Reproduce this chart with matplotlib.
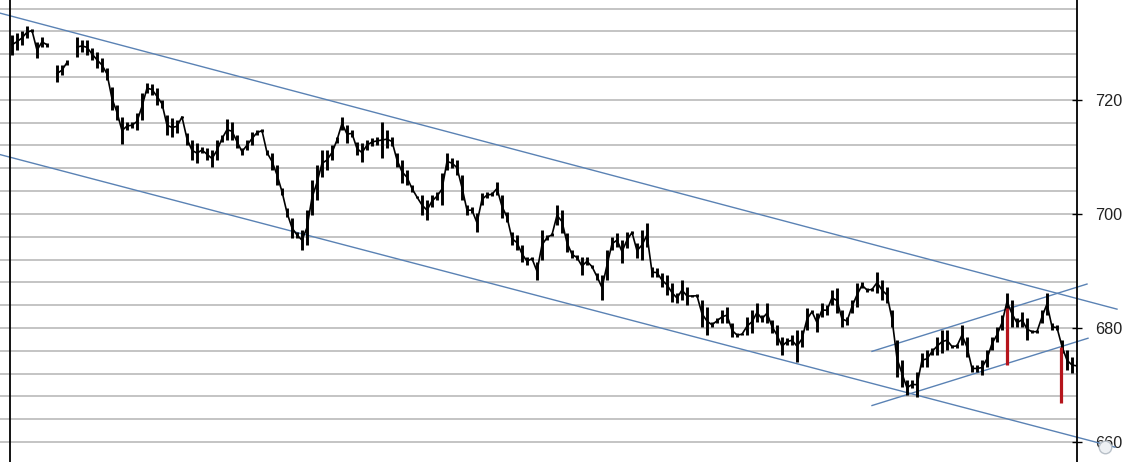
import numpy as np
import matplotlib
matplotlib.use('Agg')
import matplotlib.pyplot as plt

# bar highs / lows, one bar per slot (None = no trade)
HIGHS = [731.4, 731.7, 732.1, 732.9, 732.4, 730.1, 731.0, 730.0, None, 726.1,
         726.1, 727.0, None, 731.0, 730.5, 730.5, 729.1, 728.4, 727.3, 725.6,
         722.2, 719.1, 717.0, 716.1, 716.1, 717.7, 721.2, 722.9, 722.8, 722.1,
         720.0, 717.3, 716.8, 716.5, 717.2, 714.2, 712.9, 712.4, 711.7, 711.5,
         711.2, 712.9, 713.8, 716.6, 716.1, 713.8, 711.5, 712.9, 714.3, 714.7,
         714.9, 711.2, 710.7, 708.6, 704.5, 701.0, 699.3, 696.8, 697.2, 700.7,
         705.9, 708.6, 711.2, 711.2, 712.1, 713.5, 717.0, 715.6, 714.7, 712.6,
         712.4, 712.9, 713.3, 713.5, 716.1, 714.7, 713.5, 710.7, 709.4, 707.7,
         705.1, 703.1, 703.3, 702.4, 703.3, 703.8, 707.2, 710.7, 709.8, 709.4,
         706.8, 701.5, 701.2, 700.1, 703.6, 703.8, 703.8, 705.6, 703.3, 700.3,
         696.8, 696.3, 694.5, 692.4, 692.4, 691.5, 697.2, 696.3, 696.6, 701.5,
         700.7, 696.6, 693.6, 692.8, 692.4, 692.4, 691.0, 689.6, 689.3, 693.6,
         695.9, 696.6, 695.4, 696.8, 697.0, 694.9, 697.2, 698.4, 690.7, 690.5,
         689.6, 689.3, 687.9, 686.1, 688.4, 687.2, 685.8, 685.9, 684.9, 683.7,
         681.0, 681.7, 683.1, 683.7, 680.8, 679.1, 679.1, 681.9, 683.1, 684.4,
         682.2, 684.4, 681.4, 680.5, 678.4, 678.2, 678.7, 679.6, 679.6, 683.5,
         683.1, 682.6, 684.4, 684.0, 686.6, 687.0, 683.1, 681.9, 684.9, 687.9,
         688.0, 687.0, 687.0, 689.8, 688.4, 687.2, 683.1, 677.9, 674.4, 670.8,
         670.8, 672.2, 675.6, 676.1, 676.5, 678.4, 679.6, 679.6, 677.0, 677.2,
         680.5, 678.4, 673.5, 673.5, 674.4, 676.1, 678.4, 680.1, 682.2, 686.1,
         684.9, 681.7, 682.8, 681.7, 679.6, 679.6, 683.1, 686.1, 680.8, 680.5,
         677.9, 676.1, 674.9, 674.4]
LOWS = [727.9, 728.7, 729.6, 730.8, 731.9, 727.3, 729.3, 729.3, None, 723.1,
        724.3, 726.1, None, 727.5, 728.4, 727.9, 727.0, 725.6, 724.9, 723.5,
        718.2, 716.5, 712.2, 714.7, 715.0, 714.7, 716.5, 721.2, 720.8, 719.1,
        718.6, 713.8, 713.5, 714.2, 716.8, 712.1, 709.4, 708.9, 710.7, 709.4,
        708.2, 709.4, 712.6, 712.9, 712.9, 711.5, 710.3, 711.2, 712.1, 713.8,
        714.3, 710.3, 707.7, 705.1, 703.3, 699.4, 695.8, 695.8, 693.6, 694.5,
        699.8, 702.4, 706.5, 707.7, 709.4, 712.4, 714.7, 712.4, 713.5, 710.3,
        709.1, 711.2, 711.9, 712.1, 709.8, 711.5, 711.9, 708.2, 705.4, 705.1,
        703.8, 702.8, 699.8, 698.9, 701.2, 702.4, 701.5, 707.7, 708.0, 706.8,
        702.4, 699.8, 700.1, 696.8, 701.5, 702.8, 703.1, 703.3, 699.3, 698.6,
        694.5, 693.6, 691.5, 691.0, 691.9, 688.4, 691.9, 695.4, 696.1, 698.0,
        696.6, 693.3, 692.2, 691.9, 689.3, 691.0, 690.5, 688.4, 684.9, 688.4,
        693.6, 694.2, 691.4, 694.0, 696.5, 692.2, 691.9, 694.2, 688.9, 688.9,
        687.2, 685.8, 684.5, 684.4, 684.9, 684.0, 685.4, 685.4, 680.1, 678.7,
        680.1, 680.8, 680.8, 680.8, 678.4, 678.4, 678.7, 678.7, 679.1, 681.0,
        681.0, 680.8, 679.1, 677.0, 675.2, 677.0, 677.0, 674.0, 676.6, 679.6,
        682.6, 679.3, 681.9, 682.2, 684.0, 682.6, 680.1, 680.5, 682.6, 683.7,
        687.0, 686.3, 686.5, 686.1, 684.9, 684.4, 680.1, 671.4, 669.6, 668.2,
        669.4, 667.9, 673.1, 673.1, 675.2, 675.2, 675.6, 676.1, 676.5, 676.5,
        677.0, 674.9, 672.3, 672.3, 671.7, 673.1, 676.1, 677.5, 679.6, 683.1,
        680.1, 680.1, 680.1, 677.9, 679.1, 679.1, 680.8, 682.3, 679.6, 679.6,
        675.6, 672.6, 672.1, 672.3]

# red signal bars: bar index, top, bottom
RED_X = [199, 209.8]
RED_TOP = [683.5, 676.6]
RED_BOT = [673.5, 666.8]

# trend lines: (x0, y0, x1, y1) in bar index / price
TRENDS = [(-2.4, 735.2, 221.0, 683.3),
          (-2.4, 710.4, 220.6, 659.1),
          (172.0, 675.9, 215.0, 687.7),
          (172.0, 666.4, 215.2, 678.2)]

Y_TICKS = [660, 680, 700, 720]

highs = np.array([np.nan if v is None else v for v in HIGHS])
lows = np.array([np.nan if v is None else v for v in LOWS])
x = np.arange(len(highs))

fig = plt.figure(figsize=(11.23, 4.62), dpi=100)
ax = fig.add_axes([0, 0, 1077 / 1123, 1])
ax.set_xlim(-2.4, 213.0)
ax.set_ylim(656.5, 737.5)

# grid every 4 points
ax.set_yticks(np.arange(660, 737, 4), minor=True)
ax.grid(which='minor', axis='y', color='#b4b4b4', linewidth=1.1)
ax.grid(which='major', axis='y', color='#b4b4b4', linewidth=1.1)
ax.set_axisbelow(True)

for x0, y0, x1, y1 in TRENDS:
    ax.plot([x0, x1], [y0, y1], color='#5a82b4', linewidth=1.0,
            clip_on=False, zorder=2)

mid = (highs + lows) / 2
ax.plot(x, mid, color='black', linewidth=1.2, zorder=3)
ax.vlines(x, lows, highs, color='black', linewidth=2.1, zorder=3)

ax.vlines(RED_X, RED_BOT, RED_TOP, color='#b5141b', linewidth=2.3, zorder=4)

ax.axvline(-0.3, color='black', linewidth=1.3, zorder=5)

ax.plot([218.6], [659.1], 'o', ms=9, mfc='#eef1f4', mec='#b8c0c8',
        mew=1.0, clip_on=False, zorder=6)

for s in ('left', 'top', 'bottom'):
    ax.spines[s].set_visible(False)
ax.spines['right'].set_linewidth(1.3)
ax.set_xticks([])
ax.yaxis.tick_right()
ax.set_yticks(Y_TICKS)
ax.tick_params(axis='y', which='major', direction='inout', length=7.2,
               width=1.0, pad=9.2, labelsize=11.7, labelcolor='#222222')
ax.tick_params(axis='y', which='minor', length=0)
for lab in ax.get_yticklabels():
    lab.set_fontfamily('Liberation Sans')

fig.savefig('out.png', dpi=100)
